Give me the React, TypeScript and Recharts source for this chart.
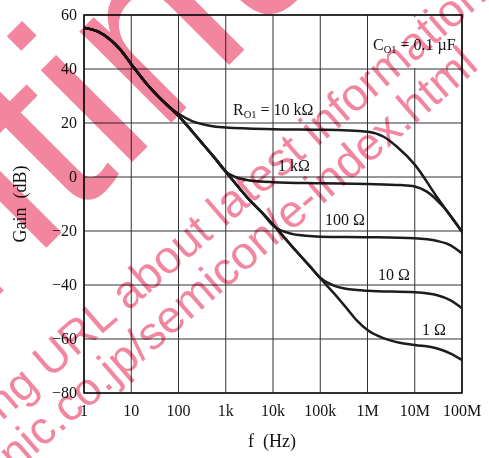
import React from "react";
import {
  LineChart,
  Line,
  XAxis,
  YAxis,
  CartesianGrid,
  ReferenceArea,
  Customized,
} from "recharts";

const FREQ_TICKS = [1, 10, 100, 1e3, 1e4, 1e5, 1e6, 1e7, 1e8];
const FREQ_LABELS = ["1", "10", "100", "1k", "10k", "100k", "1M", "10M", "100M"];
const GAIN_TICKS = [-80, -60, -40, -20, 0, 20, 40, 60];

// shared low-frequency part
const HEAD = [
  { f: 1, g: 55.3 },
  { f: 2, g: 53.8 },
  { f: 3.5, g: 51.0 },
  { f: 6, g: 47.0 },
  { f: 10, g: 41.8 },
  { f: 20, g: 35.0 },
  { f: 40, g: 29.3 },
];

const SLOPE = [
  { f: 100, g: 22.6 },
  { f: 300, g: 13.0 },
  { f: 600, g: 6.8 },
  { f: 1e3, g: 2.0 },
];

const DROP = [
  { f: 3e3, g: -8.0 },
  { f: 6e3, g: -13.4 },
];

const R10K = [
  ...HEAD,
  { f: 100, g: 23.4 },
  { f: 200, g: 20.6 },
  { f: 400, g: 19.2 },
  { f: 1e3, g: 18.3 },
  { f: 1e4, g: 17.7 },
  { f: 1e5, g: 17.5 },
  { f: 1e6, g: 16.8 },
  { f: 2.2e6, g: 14.9 },
  { f: 4.2e6, g: 11.2 },
  { f: 1e7, g: 4.6 },
  { f: 3e7, g: -7.6 },
  { f: 1e8, g: -20.3 },
];

const R1K = [
  ...HEAD,
  ...SLOPE,
  { f: 1.6e3, g: 0 },
  { f: 2.8e3, g: -1.1 },
  { f: 1e4, g: -1.9 },
  { f: 1e5, g: -2.3 },
  { f: 1e6, g: -2.6 },
  { f: 5e6, g: -3.0 },
  { f: 1e7, g: -3.5 },
  { f: 1.8e7, g: -5.4 },
  { f: 4e7, g: -11 },
  { f: 1e8, g: -20.3 },
];

const R100 = [
  ...HEAD,
  ...SLOPE,
  ...DROP,
  { f: 1e4, g: -18.0 },
  { f: 2e4, g: -20.6 },
  { f: 5e4, g: -21.8 },
  { f: 1e5, g: -22.1 },
  { f: 1e6, g: -22.3 },
  { f: 1e7, g: -22.7 },
  { f: 3e7, g: -23.7 },
  { f: 5.6e7, g: -25.2 },
  { f: 1e8, g: -28.3 },
];

const R10 = [
  ...HEAD,
  ...SLOPE,
  ...DROP,
  { f: 1e4, g: -17.6 },
  { f: 3e4, g: -27.2 },
  { f: 6e4, g: -33.0 },
  { f: 1e5, g: -37.3 },
  { f: 2e5, g: -40.3 },
  { f: 3.1e5, g: -41.2 },
  { f: 1e6, g: -42.1 },
  { f: 1e7, g: -42.7 },
  { f: 3e7, g: -43.8 },
  { f: 5.6e7, g: -45.6 },
  { f: 1e8, g: -48.6 },
];

const R1 = [
  ...HEAD,
  ...SLOPE,
  ...DROP,
  { f: 1e4, g: -17.6 },
  { f: 3e4, g: -27.2 },
  { f: 6e4, g: -33.0 },
  { f: 1e5, g: -37.5 },
  { f: 2e5, g: -43.3 },
  { f: 3.5e5, g: -48.3 },
  { f: 6e5, g: -53.2 },
  { f: 1e6, g: -56.7 },
  { f: 2.1e6, g: -59.6 },
  { f: 4.8e6, g: -61.4 },
  { f: 1e7, g: -62.2 },
  { f: 3e7, g: -63.5 },
  { f: 5.6e7, g: -65.3 },
  { f: 1e8, g: -67.8 },
];

const SERIES = [R10K, R1K, R100, R10, R1];

const SERIF = "'Liberation Serif', 'Times New Roman', serif";
const PINK = "#F3869F";

const fmtGain = (v: number) => (v < 0 ? "\u2212" + Math.abs(v) : String(v));

const XTick = (props: any) => {
  const { x, payload } = props;
  const i = FREQ_TICKS.indexOf(payload.value);
  return (
    <text x={x} y={416} textAnchor="middle" fontFamily={SERIF} fontSize={16} fill="#111">
      {FREQ_LABELS[i]}
    </text>
  );
};

const YTick = (props: any) => {
  const { y, payload } = props;
  return (
    <text x={77} y={y + 5} textAnchor="end" fontFamily={SERIF} fontSize={16} fill="#111">
      {fmtGain(payload.value)}
    </text>
  );
};

const Notes = () => (
  <g fontFamily={SERIF} fontSize={16} fill="#111">
    <rect x={372} y={17} width={88} height={51} fill="#fff" />
    <text x={373} y={50}>
      C<tspan fontSize={10.5} dy={3}>O1</tspan>
      <tspan dy={-3}> = 0.1 µF</tspan>
    </text>
    <text x={233} y={115}>
      R<tspan fontSize={10.5} dy={3}>O1</tspan>
      <tspan dy={-3}> = 10 kΩ</tspan>
    </text>
    <text x={278} y={171}>1 kΩ</text>
    <text x={325} y={225}>100 Ω</text>
    <text x={378} y={280}>10 Ω</text>
    <text x={422} y={335}>1 Ω</text>
    <text
      x={20}
      y={204}
      textAnchor="middle"
      fontSize={18}
      transform="rotate(-90 20 204)"
      dy={6}
      style={{ whiteSpace: "pre" }}
    >
      Gain  (dB)
    </text>
    <text x={272} y={447} textAnchor="middle" fontSize={18} style={{ whiteSpace: "pre" }}>
      f  (Hz)
    </text>
  </g>
);

const Watermark = () => (
  <svg
    width={489}
    height={458}
    style={{ position: "absolute", left: 0, top: 0, mixBlendMode: "multiply", pointerEvents: "none" }}
  >
    <g fill={PINK} fontFamily="'Liberation Sans', Arial, sans-serif">
      <text transform="translate(140 154) rotate(-45)" x={-844} y={0} fontSize={245}>
        Discontinued
      </text>
      <text transform="translate(-6 428) rotate(-41)" x={0} y={0} fontSize={46}>
        ing URL about latest information
      </text>
      <text transform="translate(15 472) rotate(-41)" x={0} y={0} fontSize={46}>
        nic.co.jp/semicon/e-index.html
      </text>
    </g>
  </svg>
);

export default function App() {
  return (
    <div style={{ position: "absolute", left: 0, top: 0, width: 489, height: 458, background: "#fff" }}>
      <LineChart width={489} height={458} margin={{ top: 15, right: 27, bottom: 0, left: 0 }}>
        <CartesianGrid stroke="#333" strokeWidth={1} />
        <XAxis
          type="number"
          dataKey="f"
          scale="log"
          domain={[1, 1e8]}
          ticks={FREQ_TICKS}
          interval={0}
          allowDataOverflow
          height={65}
          axisLine={false}
          tickLine={false}
          tick={<XTick />}
        />
        <YAxis
          type="number"
          domain={[-80, 60]}
          ticks={GAIN_TICKS}
          interval={0}
          width={84}
          axisLine={false}
          tickLine={false}
          tick={<YTick />}
        />
        <ReferenceArea x1={1} x2={1e8} y1={-80} y2={60} fill="none" stroke="#111" strokeWidth={1.6} />
        <Customized component={<Notes />} />
        {SERIES.map((d, i) => (
          <Line
            key={i}
            data={d}
            dataKey="g"
            type="monotone"
            stroke="#1c1c1c"
            strokeWidth={2.5}
            dot={false}
            isAnimationActive={false}
          />
        ))}
      </LineChart>
      <Watermark />
    </div>
  );
}
